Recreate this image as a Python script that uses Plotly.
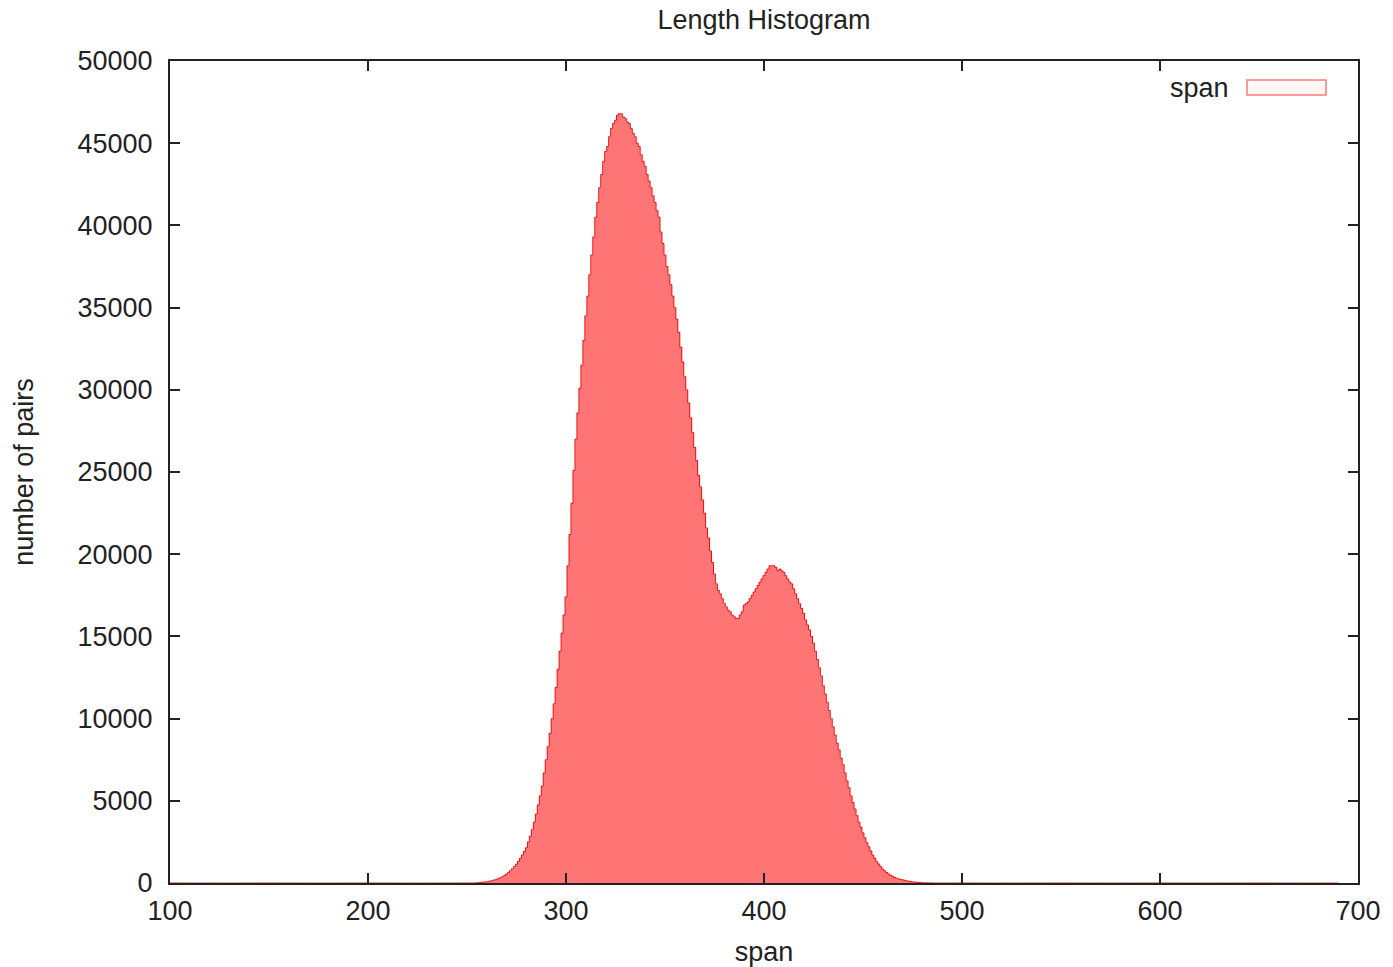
import plotly.graph_objects as go

# ---- data ----
span_min = 100
span_max = 690
first_span = 255
counts_core = [
    20, 30, 40, 50, 65, 80,
    105, 130, 160, 195, 230,
    280, 330, 390, 460, 550,
    650, 760, 880, 1010, 1150,
    1320, 1500, 1700, 1920, 2150,
    2500, 2850, 3250, 3700, 4200,
    4750, 5300, 5900, 6700, 7500,
    8300, 9100, 10000, 10900, 11900,
    13000, 14100, 15200, 16300, 17400,
    19300, 21200, 23100, 25100, 27000,
    28600, 30100, 31500, 33000, 34500,
    35700, 37000, 38200, 39300, 40500,
    41400, 42300, 43100, 43900, 44500,
    44800, 45400, 45900, 46200, 46400,
    46700, 46800, 46800, 46600, 46500,
    46300, 46200, 45900, 45600, 45400,
    45000, 44800, 44300, 43900, 43600,
    43100, 42700, 42300, 41800, 41400,
    40900, 40500, 39600, 38900, 38200,
    37500, 37000, 36400, 35700, 35000,
    34300, 33500, 32600, 31700, 30800,
    30000, 29200, 28300, 27400, 26500,
    25700, 24800, 24100, 23300, 22500,
    21600, 21000, 20200, 19500, 18800,
    18200, 17800, 17600, 17300, 17000,
    16800, 16600, 16500, 16300, 16200,
    16100, 16100, 16300, 16500, 16900,
    17000, 17100, 17300, 17500, 17700,
    17900, 18100, 18300, 18500, 18700,
    18900, 19100, 19300, 19300, 19300,
    19200, 19000, 19100, 19000, 18900,
    18700, 18500, 18300, 18200, 17900,
    17600, 17300, 17000, 16700, 16400,
    16000, 15700, 15400, 15000, 14600,
    14100, 13600, 13100, 12600, 12000,
    11500, 11000, 10500, 10000, 9500,
    9000, 8500, 8100, 7600, 7200,
    6700, 6200, 5800, 5300, 4900,
    4500, 4100, 3700, 3400, 3050,
    2750, 2450, 2200, 1950, 1700,
    1500, 1300, 1150, 1000, 850,
    740, 640, 550, 470, 400,
    340, 290, 250, 220, 200,
    170, 140, 120, 100, 80,
    65, 50, 40, 35, 30,
    25, 20, 15, 12, 10,
]
x_ticks = [100, 200, 300, 400, 500, 600, 700]
y_ticks = [0, 5000, 10000, 15000, 20000, 25000, 30000, 35000, 40000, 45000, 50000]
y_tick_labels = [str(v) for v in y_ticks]
x_tick_labels = [str(v) for v in x_ticks]

spans = list(range(span_min, span_max + 1))
counts = [0] * len(spans)
for i, v in enumerate(counts_core):
    counts[first_span - span_min + i] = v

FONT = "Liberation Sans, Arial, Helvetica, sans-serif"
FS = 27

fig = go.Figure()
fig.add_trace(go.Bar(
    x=spans, y=counts, width=1,
    marker=dict(color="rgba(255,0,0,0.54)", line=dict(width=0)),
    showlegend=False, hoverinfo="x+y",
))
fig.add_trace(go.Scatter(
    x=spans, y=counts, mode="lines", line_shape="hvh",
    line=dict(color="rgba(225,0,0,0.85)", width=1),
    showlegend=False, hoverinfo="skip",
))

W, H = 1393, 967
L, R, T, B = 170, 35, 61, 84
pw = W - L - R
ph = H - T - B

def px(xp):
    return (xp - L) / pw

def py(yp):
    return (H - B - yp) / ph

fig.add_annotation(
    text="span", xref="paper", yref="paper",
    x=px(1231), y=py(88), xanchor="right", yanchor="middle",
    showarrow=False, font=dict(family=FONT, size=FS, color="#222"),
)
fig.add_shape(
    type="rect", xref="paper", yref="paper",
    x0=px(1247), x1=px(1326), y0=py(95), y1=py(80),
    line=dict(color="#ff7a7a", width=1.5), fillcolor="rgba(255,240,240,0.6)",
)

axis_common = dict(
    showline=True, linecolor="#222", linewidth=2, mirror="allticks",
    ticks="inside", ticklen=10, tickwidth=1.5, tickcolor="#222",
    showgrid=False, zeroline=False, automargin=False,
    tickfont=dict(family=FONT, size=FS, color="#222"),
)

fig.update_layout(
    width=W, height=H,
    margin=dict(l=L, r=R, t=T, b=B),
    paper_bgcolor="white", plot_bgcolor="white",
    bargap=0,
    title=dict(text="Length Histogram", x=(L + pw / 2) / W, xanchor="center",
               y=1 - 20 / H, yanchor="middle",
               font=dict(family=FONT, size=FS, color="#222")),
    xaxis=dict(range=[100, 700], tickvals=x_ticks, ticktext=x_tick_labels,
               ticklabelstandoff=3,
               title=dict(text="span", standoff=18,
                          font=dict(family=FONT, size=FS, color="#222")),
               **axis_common),
    yaxis=dict(range=[0, 50000], tickvals=y_ticks, ticktext=y_tick_labels,
               ticklabelstandoff=10,
               title=dict(text="number of pairs", standoff=36,
                          font=dict(family=FONT, size=FS, color="#222")),
               **axis_common),
)

fig.write_html("out.html", config={"displayModeBar": False},
               post_script="document.body.style.margin='0';document.body.style.overflow='hidden';")
